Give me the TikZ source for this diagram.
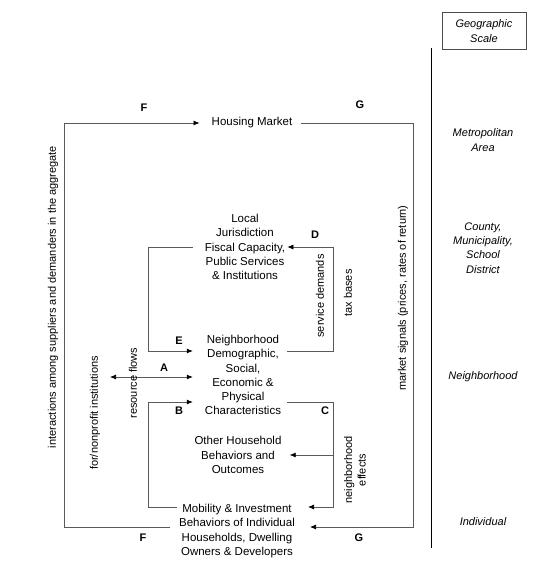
\documentclass[tikz,border=0pt]{standalone}
\usepackage{fontspec}
\setmainfont{Liberation Sans}
\usetikzlibrary{arrows.meta}
\begin{document}
\begin{tikzpicture}[x=1pt,y=-1pt,
  every node/.style={font=\fontsize{11.5}{14.2}\selectfont, align=center, inner sep=2pt},
  lbl/.style={font=\fontsize{11}{13}\selectfont\bfseries},
  scl/.style={font=\fontsize{11}{14.2}\selectfont\itshape},
  side/.style={rotate=90, font=\fontsize{11}{13.5}\selectfont},
  ln/.style={draw=black!65, line width=0.7pt},
  arr/.style={ln, -{Latex[length=6pt,width=5pt,black]}},
  darr/.style={ln, {Latex[length=6pt,width=5pt,black]}-{Latex[length=6pt,width=5pt,black]}}]
\useasboundingbox (0,0) rectangle (541,566);
\node[draw=black!70, line width=0.7pt, scl, minimum width=84pt, minimum height=37pt] (geo) at (484,31){Geographic\\Scale};
\node[scl] (metro) at (483,140){Metropolitan\\Area};
\node[scl] (cty) at (483,248){County,\\Municipality,\\School\\District};
\node[scl] (nbh) at (483,377){Neighborhood};
\node[scl] (ind) at (483,522){Individual};
\coordinate (vtop) at (431,48);
\coordinate (vbot) at (431,548);
\draw[line width=0.8pt](vtop) -- (vbot);
\node (hm) at (252,123){Housing Market};
\node (lj) at (245,247){Local\\Jurisdiction\\Fiscal Capacity,\\Public Services\\\& Institutions};
\node (nb) at (243,375){Neighborhood\\Demographic,\\Social,\\Economic \&\\Physical\\Characteristics};
\node (oh) at (238,455){Other Household\\Behaviors and\\Outcomes};
\node (mob) at (237,531){Mobility \& Investment\\Behaviors of Individual\\Households, Dwelling\\Owners \& Developers};
\coordinate (ftop) at (64,123);
\coordinate (fbot) at (64,527);
\coordinate (gtop) at (413,123);
\coordinate (gbot) at (413,527);
\coordinate (etop) at (148,247);
\coordinate (ebot) at (148,351);
\coordinate (dtop) at (333,247);
\coordinate (dbot) at (333,351);
\coordinate (btop) at (148,402);
\coordinate (bbot) at (148,507);
\coordinate (ctop) at (333,402);
\coordinate (cbot) at (333,507);
\coordinate (aend) at (110,377);
\draw[arr, shorten <=7pt, shorten >=10pt](mob.west |- fbot) -- (fbot) -- (ftop) -- (hm.west);
\draw[arr, shorten <=7pt, shorten >=13pt](hm.east) -- (gtop) -- (gbot) -- (mob.east |- gbot);
\draw[arr, shorten <=10pt, shorten >=10pt](lj.west |- etop) -- (etop) -- (ebot) -- (nb.west |- ebot);
\draw[arr, shorten <=4pt](nb.east |- dbot) -- (dbot) -- (dtop) -- (lj.east |- dtop);
\draw[arr, shorten >=10pt](mob.west |- bbot) -- (bbot) -- (btop) -- (nb.west |- btop);
\draw[arr, shorten <=4pt, shorten >=11pt](nb.east |- ctop) -- (ctop) -- (cbot) -- (mob.east |- cbot);
\draw[arr, shorten >=6pt](ctop |- oh.east) -- (oh.east);
\draw[darr, shorten >=10pt](aend) -- (nb.west |- aend);
\node[lbl] (ft) at (144,108){F};
\node[lbl] (gt) at (360,105){G};
\node[lbl] (dl) at (315,235){D};
\node[lbl] (el) at (179,341){E};
\node[lbl] (al) at (164,368){A};
\node[lbl] (bl) at (179,411){B};
\node[lbl] (cl) at (325,411){C};
\node[lbl] (fb) at (143,538){F};
\node[lbl] (gb) at (359,538){G};
\node[side] (inter) at (53,297){interactions among suppliers and demanders in the aggregate};
\node[side] (nonprof) at (95,413){for/nonprofit institutions};
\node[side] (resflow) at (133,383){resource flows};
\node[side] (servdem) at (320,296){service demands};
\node[side] (taxb) at (348,293){tax bases};
\node[side] (mktsig) at (403,298){market signals (prices, rates of return)};
\node[side] (nbeff) at (355,470){neighborhood\\effects};
\end{tikzpicture}
\end{document}
